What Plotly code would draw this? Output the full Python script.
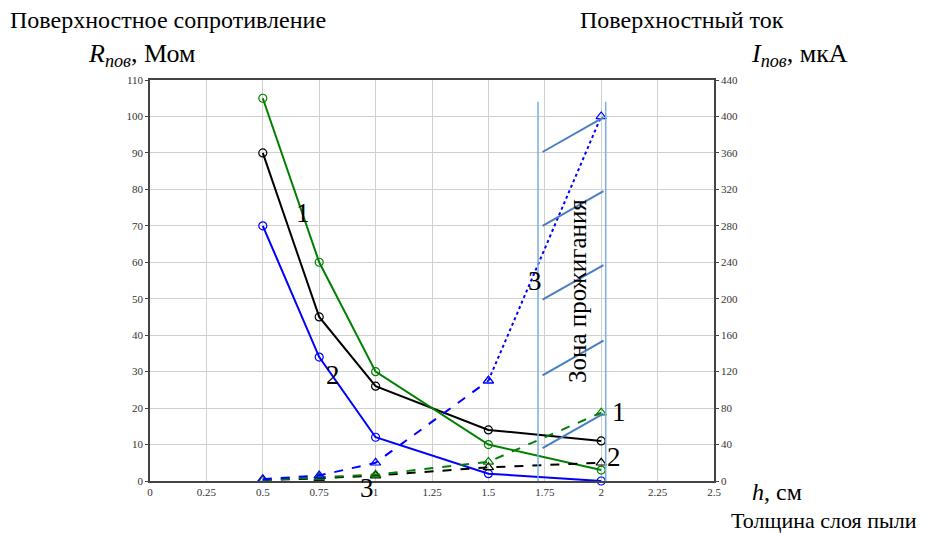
import plotly.graph_objects as go

# ---- data ----
h = [0.5, 0.75, 1.0, 1.5, 2.0]
R1 = [105, 60, 30, 10, 3]      # green, curve 1
R2 = [90, 45, 26, 14, 11]      # black
R3 = [70, 34, 12, 2, 0]        # blue
I1 = [1, 4, 7, 21, 75]         # green dashed
I2 = [1, 3, 6, 15, 20]         # black dashed
I3_h_a = [0.5, 0.75, 1.0, 1.5]
I3_a = [2, 6, 20, 110]         # blue dashed
I3_h_b = [1.5, 2.0]
I3_b = [110, 400]              # blue dotted

zone_x = [1.72, 2.02]
hatch_x = [1.74, 2.01]
hatch_y0 = [36, 116, 199, 280, 361]
hatch_rise = 38

x_ticks = [0, 0.25, 0.5, 0.75, 1, 1.25, 1.5, 1.75, 2, 2.25, 2.5]

SERIF = "Liberation Serif"
GREEN = "#008000"
BLUE = "#0000ff"
BLACK = "#000000"

# plot area in window pixels
PL, PR, PT, PB = 150, 714, 80, 481
def px(x):
    return (x - PL) / (PR - PL)
def py(y):
    return (PB - y) / (PB - PT)

fig = go.Figure()

def solid(x, y, c):
    fig.add_trace(go.Scatter(x=x, y=y, mode="lines+markers",
                             line=dict(color=c, width=2),
                             marker=dict(symbol="circle-open", size=8, color=c, line=dict(width=1.2)),
                             showlegend=False, cliponaxis=False))

def dashed(x, y, c, dash="dash"):
    fig.add_trace(go.Scatter(x=x, y=y, yaxis="y2", mode="lines+markers",
                             line=dict(color=c, width=2, dash=dash),
                             marker=dict(symbol="triangle-up-open", size=9, color=c, line=dict(width=1.2)),
                             showlegend=False, cliponaxis=False))

dashed(h, I2, BLACK)
dashed(h, I1, GREEN)
dashed(I3_h_a, I3_a, BLUE, "dash")
dashed(I3_h_b, I3_b, BLUE, "dot")
solid(h, R2, BLACK)
solid(h, R1, GREEN)
solid(h, R3, BLUE)

shapes = []
for zx in zone_x:
    shapes.append(dict(type="line", xref="x", yref="y", x0=zx, x1=zx, y0=-3, y1=104,
                       line=dict(color="#7aaee0", width=1.5)))
for y0 in hatch_y0:
    shapes.append(dict(type="line", xref="x", yref="y2", x0=hatch_x[0], x1=hatch_x[1],
                       y0=y0, y1=y0 + hatch_rise, line=dict(color="#4a7fbf", width=2)))

def ann(text, x, y, size=27, xref="x", yref="y", xanchor="center", yanchor="middle", angle=0):
    return dict(text=text, x=x, y=y, xref=xref, yref=yref, showarrow=False,
                xanchor=xanchor, yanchor=yanchor, textangle=angle,
                font=dict(family=SERIF, size=size, color="#000"))

def pann(text, x, y, size=24, xanchor="left"):
    return ann(text, px(x), py(y), size=size, xref="paper", yref="paper", xanchor=xanchor)

annotations = [
    ann("1", 0.678, 73.5), ann("2", 0.81, 29), pann("3", 367, 488, size=27, xanchor="center"),
    ann("1", 2.08, 19), ann("2", 2.055, 6.6), ann("3", 1.705, 55),
    ann("Зона прожигания", 1.895, 52, size=25, angle=-90),
    pann("Поверхностное сопротивление", 8, 20),
    pann("<i>R<sub>пов</sub></i>, Мом", 86, 55, size=26),
    pann("Поверхностный ток", 578, 20),
    pann("<i>I<sub>пов</sub></i>, мкА", 749, 55, size=26),
    pann("<i>h</i>, см", 750, 492),
    pann("Толщина слоя пыли", 919, 520, size=22, xanchor="right"),
]

axis_common = dict(showline=True, linecolor="#444", linewidth=1.5,
                   tickfont=dict(family=SERIF, size=11, color="#333"),
                   ticks="outside", ticklen=3, tickcolor="#444", zeroline=False)

fig.update_layout(
    width=925, height=533,
    margin=dict(l=PL, r=925 - PR, t=PT, b=533 - PB),
    paper_bgcolor="white", plot_bgcolor="white",
    shapes=shapes, annotations=annotations,
    xaxis=dict(range=[0, 2.5], tickvals=x_ticks, showgrid=True, gridcolor="#d0d0d0",
               mirror=True, ticks="", **{k: v for k, v in axis_common.items() if k != "ticks"}),
    yaxis=dict(range=[0, 110], dtick=10, showgrid=True, gridcolor="#d0d0d0", **axis_common),
    yaxis2=dict(range=[0, 440], dtick=40, overlaying="y", side="right", showgrid=False, **axis_common),
)

fig.write_html("out.html", config={"displayModeBar": False},
               post_script="document.body.style.margin='0';document.body.style.overflow='hidden';")
